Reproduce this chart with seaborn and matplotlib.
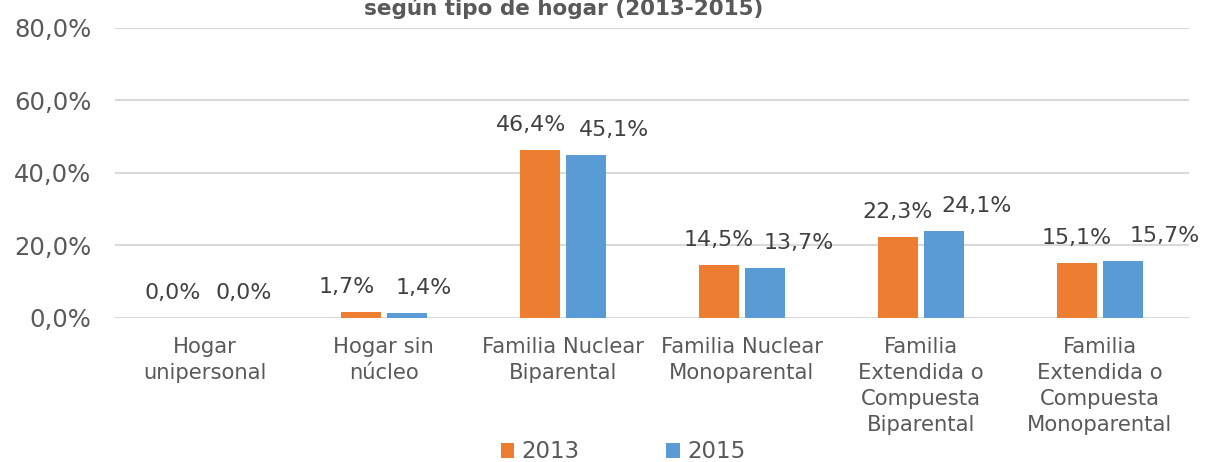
import seaborn as sns
import matplotlib.pyplot as plt
import pandas as pd
from matplotlib.ticker import FuncFormatter

# data (percent)
categorias = ['Hogar\nunipersonal', 'Hogar sin\nnúcleo', 'Familia Nuclear\nBiparental',
              'Familia Nuclear\nMonoparental', 'Familia\nExtendida o\nCompuesta\nBiparental',
              'Familia\nExtendida o\nCompuesta\nMonoparental']
anios = ['2013', '2015']
valores_2013 = [0.0, 1.7, 46.4, 14.5, 22.3, 15.1]
valores_2015 = [0.0, 1.4, 45.1, 13.7, 24.1, 15.7]
titulo = 'según tipo de hogar (2013-2015)'

df = pd.DataFrame({
    'categoria': categorias * 2,
    'anio': [anios[0]] * len(categorias) + [anios[1]] * len(categorias),
    'valor': valores_2013 + valores_2015,
})

sns.set_theme(style='white')
plt.rcParams['font.family'] = ['DejaVu Sans']
gris = '#595959'

fig = plt.figure(figsize=(12.06, 4.62), dpi=100)
ax = fig.add_axes([0.0954, 0.3117, 0.8906, 0.6277])

sns.barplot(data=df, x='categoria', y='valor', hue='anio', order=categorias, hue_order=anios,
            palette=['#ED7D31', '#5B9BD5'], saturation=1, width=0.514, gap=0.13, linewidth=0,
            errorbar=None, ax=ax)

ax.set_ylim(0, 80)
ax.set_yticks([0, 20, 40, 60, 80])
ax.yaxis.set_major_formatter(FuncFormatter(lambda v, p: f'{v:.1f}%'.replace('.', ',')))
ax.grid(axis='y', color='#D9D9D9', linewidth=1.5)
ax.set_axisbelow(True)
for s in ax.spines.values():
    s.set_visible(False)
ax.set_xlabel('')
ax.set_ylabel('')
ax.tick_params(axis='y', length=0, pad=17, labelsize=17.5, labelcolor=gris)
ax.tick_params(axis='x', length=0, pad=13.5, labelsize=15.2, labelcolor=gris)
for t in ax.get_xticklabels():
    t.set_linespacing(1.38)

# data labels, nudged sideways like in the original
desp_x = [[-9, -14, -9, 0, 0, 0], [16, 17, 28, 34, 33, 42]]
for i, cont in enumerate(ax.containers):
    for j, barra in enumerate(cont):
        v = barra.get_height()
        ax.annotate(f'{v:.1f}%'.replace('.', ','),
                    (barra.get_x() + barra.get_width() / 2, v),
                    xytext=(desp_x[i][j], 25), textcoords='offset pixels',
                    ha='center', va='center', fontsize=15.9, color='#404040')

ax.legend(loc='center', bbox_to_anchor=(623 / 1206, 1 - 452 / 462),
          bbox_transform=fig.transFigure, ncol=2, frameon=False,
          fontsize=16.5, labelcolor=gris, handlelength=0.6, handleheight=0.6,
          handletextpad=0.3, columnspacing=3.8, borderaxespad=0, borderpad=0)

fig.text(0.467, 1 - 15 / 462, titulo, ha='center', va='baseline', fontsize=15.5,
         fontweight='bold', color=gris)

fig.savefig('out.png', dpi=100)
